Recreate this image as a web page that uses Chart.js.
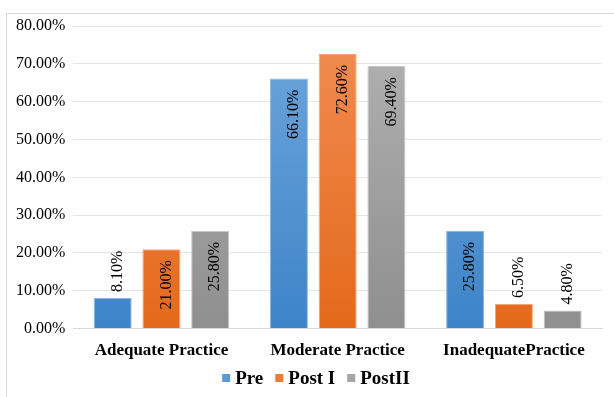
<!DOCTYPE html>
<html>
<head>
<meta charset="utf-8">
<script src="https://cdn.jsdelivr.net/npm/chart.js@4"></script>
<style>
  body { margin: 0; background: #fff; }
  #wrap { position: absolute; left: 6px; top: 13px; width: 620px; height: 400px; border: 1px solid #d9d9d9; }
  #box { position: absolute; left: 0; top: 0; width: 614px; height: 397px; }
</style>
</head>
<body>
<div id="wrap"></div>
<div id="box"><canvas id="chart"></canvas></div>
<script>
var categories = ["Adequate Practice", "Moderate Practice", "InadequatePractice"];
var preValues = [8.1, 66.1, 25.8];
var post1Values = [21.0, 72.6, 6.5];
var post2Values = [25.8, 69.4, 4.8];
var seriesNames = ["Pre", "Post I", "PostII"];
var keyColors = ["#5b9bd5", "#ed7d31", "#a5a5a5"];

var serif = '"Liberation Serif", "Times New Roman", serif';

function grad(top, bottom) {
  return function(ctx) {
    var area = ctx.chart.chartArea;
    if (!area) return bottom;
    var g = ctx.chart.ctx.createLinearGradient(0, area.top, 0, area.bottom);
    g.addColorStop(0, top);
    g.addColorStop(1, bottom);
    return g;
  };
}

// value labels, rotated, inside the top of tall bars, above short ones
var barLabels = {
  id: 'barLabels',
  afterDatasetsDraw: function(chart) {
    var ctx = chart.ctx;
    ctx.save();
    ctx.font = '16px ' + serif;
    ctx.fillStyle = '#000';
    chart.data.datasets.forEach(function(ds, i) {
      chart.getDatasetMeta(i).data.forEach(function(bar, j) {
        var v = ds.data[j];
        var txt = v.toFixed(2) + '%';
        ctx.save();
        ctx.translate(bar.x + 5, bar.y);
        ctx.rotate(-Math.PI / 2);
        ctx.textBaseline = 'middle';
        if (v > 15) {
          ctx.textAlign = 'right';
          ctx.fillText(txt, -11, 0);
        } else {
          ctx.textAlign = 'left';
          ctx.fillText(txt, 6, 0);
        }
        ctx.restore();
      });
    });
    ctx.restore();
  }
};

// small legend at the bottom: square key, short gap, bold label
var keyLegend = {
  id: 'keyLegend',
  afterDraw: function(chart) {
    var ctx = chart.ctx;
    ctx.save();
    ctx.font = 'bold 19px ' + serif;
    ctx.textBaseline = 'middle';
    var box = 8, gap = 5, space = 12;
    var widths = seriesNames.map(function(n) { return box + gap + ctx.measureText(n).width; });
    var total = widths.reduce(function(a, b) { return a + b; }, 0) + space * (widths.length - 1);
    var x = 316 - total / 2, y = 378;
    seriesNames.forEach(function(n, i) {
      ctx.fillStyle = keyColors[i];
      ctx.fillRect(x, y - box / 2, box, box);
      ctx.fillStyle = '#000';
      ctx.fillText(n, x + box + gap, y + 1);
      x += widths[i] + space;
    });
    ctx.restore();
  }
};

new Chart(document.getElementById('chart'), {
  type: 'bar',
  data: {
    labels: categories,
    datasets: [
      { label: seriesNames[0], data: preValues, backgroundColor: grad('#6fa6dd', '#3e84c8'), borderColor: '#8ab8e6', borderWidth: 1 },
      { label: seriesNames[1], data: post1Values, backgroundColor: grad('#f18d55', '#e4691a'), borderColor: '#f4a677', borderWidth: 1 },
      { label: seriesNames[2], data: post2Values, backgroundColor: grad('#b2b2b2', '#8f8f8f'), borderColor: '#c6c6c6', borderWidth: 1 }
    ]
  },
  options: {
    responsive: true,
    maintainAspectRatio: false,
    animation: false,
    layout: { padding: { left: 8, right: 12, top: 26, bottom: 32 } },
    datasets: { bar: { categoryPercentage: 0.83, barPercentage: 0.78 } },
    plugins: {
      legend: { display: false },
      tooltip: { enabled: false }
    },
    scales: {
      x: {
        grid: { display: false },
        border: { color: '#d9d9d9' },
        ticks: { color: '#000', padding: 4, font: { family: serif, size: 17, weight: 'bold' } }
      },
      y: {
        min: 0, max: 80,
        ticks: {
          stepSize: 10, color: '#000', padding: 8,
          font: { family: serif, size: 16 },
          callback: function(v) { return v.toFixed(2) + '%'; }
        },
        grid: { color: '#e6e6e6', drawTicks: false },
        border: { display: false }
      }
    }
  },
  plugins: [barLabels, keyLegend]
});
</script>
</body>
</html>
